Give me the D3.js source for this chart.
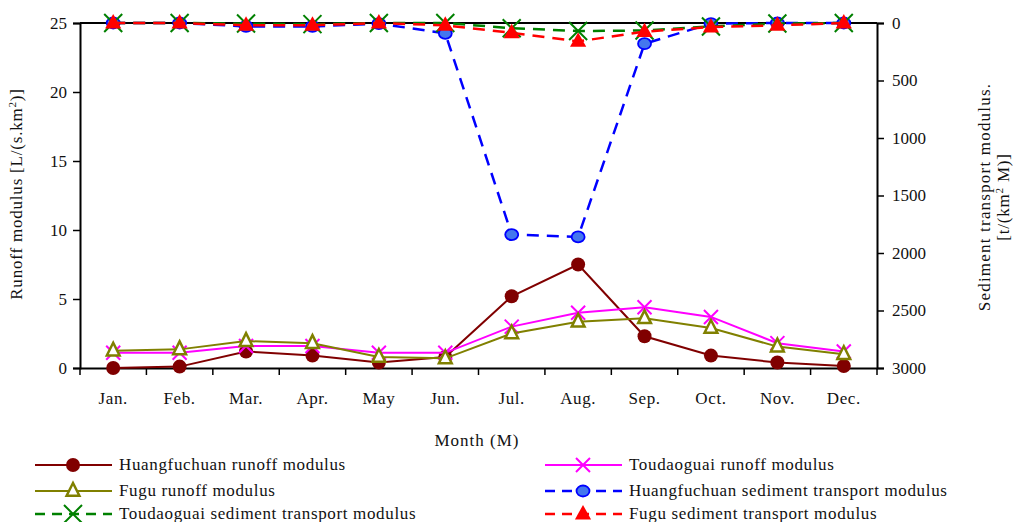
<!DOCTYPE html>
<html><head><meta charset="utf-8">
<script src="https://cdn.jsdelivr.net/npm/d3@7"></script>
<style>body{margin:0;background:#fff}svg{display:block;font-family:"Liberation Serif","Times New Roman",serif}svg text{font-family:"Liberation Serif","Times New Roman",serif}</style>
</head><body><svg id="c" width="1013" height="522"></svg>
<script>
const months = ["Jan.","Feb.","Mar.","Apr.","May","Jun.","Jul.","Aug.","Sep.","Oct.","Nov.","Dec."];
const leftTicks = [0,5,10,15,20,25];
const rightTicks = [0,500,1000,1500,2000,2500,3000];
const huangRunoff = [0.0,0.1,1.2,0.9,0.4,0.8,5.2,7.5,2.3,0.9,0.4,0.15];
const toudaoRunoff = [1.1,1.1,1.6,1.6,1.1,1.1,3.0,4.0,4.4,3.7,1.8,1.2];
const fuguRunoff = [1.25,1.35,1.95,1.8,0.8,0.7,2.5,3.35,3.6,2.9,1.55,1.0];
const huangSed = [0,0,30,30,5,90,1840,1860,180,5,0,0];
const toudaoSed = [0,0,5,10,0,0,45,70,65,30,5,0];
const fuguSed = [0,0,20,20,0,20,85,160,75,35,20,0];

const svg = d3.select("#c");
const L=80,R=877,T=23,B=368;
const x = d3.scaleBand().domain(months).range([L,R]);
const yL = d3.scaleLinear().domain([0,25]).range([B,T]);
const yR = d3.scaleLinear().domain([0,3000]).range([T,B]);
const cx = m => x(m)+x.bandwidth()/2;
const FONT = "Liberation Serif";

svg.append("line").attr("x1",L).attr("x2",R).attr("y1",T).attr("y2",T).attr("stroke","#000").attr("stroke-width",2);

const gl = svg.append("g").attr("transform",`translate(${L},0)`).call(d3.axisLeft(yL).tickValues(leftTicks).tickSize(7).tickPadding(6));
const gb = svg.append("g").attr("transform",`translate(0,${B})`).call(d3.axisBottom(x).tickSize(0).tickPadding(24));
const bounds = months.map(m=>x(m)).concat([R]);
svg.append("g").selectAll("line").data(bounds).join("line")
  .attr("x1",d=>d).attr("x2",d=>d).attr("y1",B).attr("y2",B+7).attr("stroke","#000").attr("stroke-width",1.5);
const gr = svg.append("g").attr("transform",`translate(${R},0)`).call(d3.axisRight(yR).tickValues(rightTicks).tickFormat(d3.format("d")).tickSize(7).tickPadding(8));
[gl,gb,gr].forEach(g=>{
  g.attr("font-family",FONT).attr("font-size",17);
  g.select(".domain").attr("stroke","#000").attr("stroke-width",2);
  g.selectAll(".tick line").attr("stroke","#000").attr("stroke-width",1.5);
  g.selectAll("text").attr("font-size","17px").attr("font-family",FONT).attr("fill","#111");
});
gb.selectAll("text").attr("letter-spacing","0.6px");

const lt = svg.append("text").attr("transform","translate(22,194) rotate(-90)").attr("text-anchor","middle")
  .attr("font-size","17px").attr("letter-spacing","0.8px").attr("fill","#111");
lt.append("tspan").text("Runoff modulus [L/(s.km");
lt.append("tspan").attr("font-size","11px").attr("dy","-6").text("2");
lt.append("tspan").attr("dy","6").text(")]");
svg.append("text").attr("transform","translate(990,197) rotate(-90)").attr("text-anchor","middle")
  .attr("font-size","17px").attr("letter-spacing","1.2px").attr("fill","#111").text("Sediment transport modulus.");
const rt2 = svg.append("text").attr("transform","translate(1009,197) rotate(-90)").attr("text-anchor","middle")
  .attr("font-size","17px").attr("letter-spacing","0.8px").attr("fill","#111");
rt2.append("tspan").text("[t/(km");
rt2.append("tspan").attr("font-size","11px").attr("dy","-6").text("2");
rt2.append("tspan").attr("dy","6").text(" M)]");
svg.append("text").attr("x",477).attr("y",446).attr("text-anchor","middle").attr("font-size","17px").attr("letter-spacing","1px").attr("fill","#111").text("Month (M)");

function marker(g, type, color, px, py){
  if(type==="dot") g.append("circle").attr("cx",px).attr("cy",py).attr("r",7).attr("fill","#800000");
  else if(type==="x"){ const s=7;
    g.append("path").attr("d",`M${px-s},${py-s}L${px+s},${py+s}M${px-s},${py+s}L${px+s},${py-s}`).attr("stroke",color).attr("stroke-width",2).attr("fill","none");}
  else if(type==="tri"){ const s=8;
    g.append("path").attr("d",`M${px},${py-s}L${px+s*0.8},${py+s*0.6}L${px-s*0.8},${py+s*0.6}Z`).attr("stroke","#808000").attr("stroke-width",2.5).attr("fill","#fff");}
  else if(type==="bdot") g.append("ellipse").attr("cx",px).attr("cy",py).attr("rx",6.5).attr("ry",5.5).attr("fill","#4477ee").attr("stroke","#0000ff").attr("stroke-width",1.8);
  else if(type==="gx"){ const s=9;
    g.append("path").attr("d",`M${px-s},${py-s}L${px+s},${py+s}M${px-s},${py+s}L${px+s},${py-s}`).attr("stroke","#008000").attr("stroke-width",2).attr("fill","none");}
  else if(type==="rtri"){ const s=9;
    g.append("path").attr("d",`M${px},${py-s}L${px+s*0.9},${py+s*0.6}L${px-s*0.9},${py+s*0.6}Z`).attr("fill","#ff0000");}
}

const series = [
  {name:"Huangfuchuan runoff modulus", data:huangRunoff, axis:yL, color:"#800000", w:2, dash:null, m:"dot"},
  {name:"Toudaoguai runoff modulus", data:toudaoRunoff, axis:yL, color:"#ff00ff", w:2, dash:null, m:"x"},
  {name:"Fugu runoff modulus", data:fuguRunoff, axis:yL, color:"#808000", w:2, dash:null, m:"tri"},
  {name:"Huangfuchuan sediment transport modulus", data:huangSed, axis:yR, color:"#0000ff", w:2.5, dash:"12,8", m:"bdot"},
  {name:"Toudaoguai sediment transport modulus", data:toudaoSed, axis:yR, color:"#008000", w:2.5, dash:"12,8", m:"gx"},
  {name:"Fugu sediment transport modulus", data:fuguSed, axis:yR, color:"#ff0000", w:2.5, dash:"12,8", m:"rtri"}
];
const plot = svg.append("g");
series.forEach(s=>{
  const line = d3.line().x((d,i)=>cx(months[i])).y(d=>s.axis(d));
  plot.append("path").datum(s.data).attr("d",line).attr("fill","none").attr("stroke",s.color).attr("stroke-width",s.w)
    .attr("stroke-dasharray",s.dash);
  s.data.forEach((d,i)=>marker(plot,s.m,s.color,cx(months[i]),s.axis(d)));
});

const legPos = [[35,465],[545,465],[35,491],[545,491],[35,514],[545,514]];
series.forEach((s,i)=>{
  const [lx,ly]=legPos[i];
  const g = svg.append("g");
  g.append("line").attr("x1",lx).attr("x2",lx+77).attr("y1",ly).attr("y2",ly).attr("stroke",s.color).attr("stroke-width",s.w)
    .attr("stroke-dasharray",s.dash ? "10,7" : null);
  marker(g,s.m,s.color,lx+38,ly);
  g.append("text").attr("x",lx+84).attr("y",ly+5).attr("font-size","17px").attr("letter-spacing","0.65px").attr("fill","#111").text(s.name);
});
</script></body></html>
